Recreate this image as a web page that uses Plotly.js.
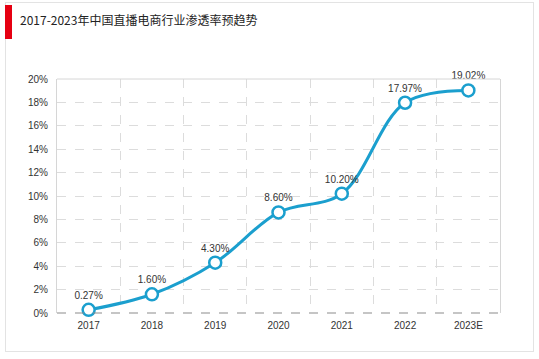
<!DOCTYPE html>
<html>
<head>
<meta charset="utf-8">
<script src="https://cdn.plot.ly/plotly-3.0.1.min.js"></script>
<style>
html,body{margin:0;padding:0;background:#fff;}
#wrap{position:relative;width:539px;height:359px;overflow:hidden;}
#frame{position:absolute;left:5px;top:2px;width:529px;height:350px;border:1px solid #e3e3e3;box-sizing:border-box;}
#bar{position:absolute;left:5px;top:5px;width:7px;height:34px;background:#e60012;}
#chart{position:absolute;left:0;top:0;width:539px;height:359px;}
</style>
</head>
<body>
<div id="wrap">
<div id="frame"></div>
<div id="bar"></div>
<div id="chart"></div>
</div>
<script>
const titleText = "2017-2023年中国直播电商行业渗透率预趋势";
const years = ["2017","2018","2019","2020","2021","2022","2023E"];
const rates = [0.27, 1.60, 4.30, 8.60, 10.20, 17.97, 19.02];
const labels = ["0.27%","1.60%","4.30%","8.60%","10.20%","17.97%","19.02%"];
const yTicks = [0,2,4,6,8,10,12,14,16,18,20];

const trace = {
  type: "scatter",
  mode: "lines+markers+text",
  x: years,
  y: rates,
  text: labels,
  textposition: "top center",
  textfont: {family: "Liberation Sans, Arial, sans-serif", size: 10, color: "#333"},
  line: {color: "#1b9fce", width: 3, shape: "spline", smoothing: 1},
  marker: {size: 12, color: "#ffffff", line: {color: "#1b9fce", width: 2.5}},
  cliponaxis: false,
  hoverinfo: "skip"
};

const layout = {
  width: 539, height: 359,
  margin: {l: 57, r: 39, t: 79, b: 46},
  paper_bgcolor: "rgba(0,0,0,0)",
  plot_bgcolor: "rgba(0,0,0,0)",
  showlegend: false,
  title: {
    text: titleText,
    xref: "container", yref: "container",
    x: 20/539, xanchor: "left",
    y: 1 - 21/359, yanchor: "middle",
    font: {family: "Noto Sans CJK SC, sans-serif", size: 12, color: "#222"}
  },
  xaxis: {
    type: "category",
    range: [-0.5, 6.5],
    tickson: "boundaries",
    showgrid: true, griddash: "dash", gridcolor: "#dcdcdc", gridwidth: 1,
    showline: false, zeroline: false,
    ticks: "", ticklen: 0, ticklabelstandoff: 5,
    tickfont: {family: "Liberation Sans, Arial, sans-serif", size: 10, color: "#333"},
    fixedrange: true
  },
  yaxis: {
    range: [0, 20],
    tickvals: yTicks,
    ticktext: yTicks.map(v => v + "%"),
    showgrid: true, griddash: "dash", gridcolor: "#dcdcdc", gridwidth: 1,
    showline: true, mirror: true, linecolor: "#d6d6d6", linewidth: 1,
    zeroline: false,
    ticks: "", ticklabelstandoff: 6,
    tickfont: {family: "Liberation Sans, Arial, sans-serif", size: 10, color: "#333"},
    fixedrange: true
  },
  shapes: [
    {type: "line", xref: "paper", yref: "paper", x0: 0, x1: 1, y0: 1, y1: 1,
     line: {color: "#d6d6d6", width: 1}},
    {type: "line", xref: "paper", yref: "paper", x0: 0, x1: 1, y0: 0, y1: 0,
     line: {color: "#8c8c8c", width: 1.2, dash: "dash"}}
  ]
};

Plotly.newPlot("chart", [trace], layout, {displayModeBar: false, staticPlot: true});
</script>
</body>
</html>
